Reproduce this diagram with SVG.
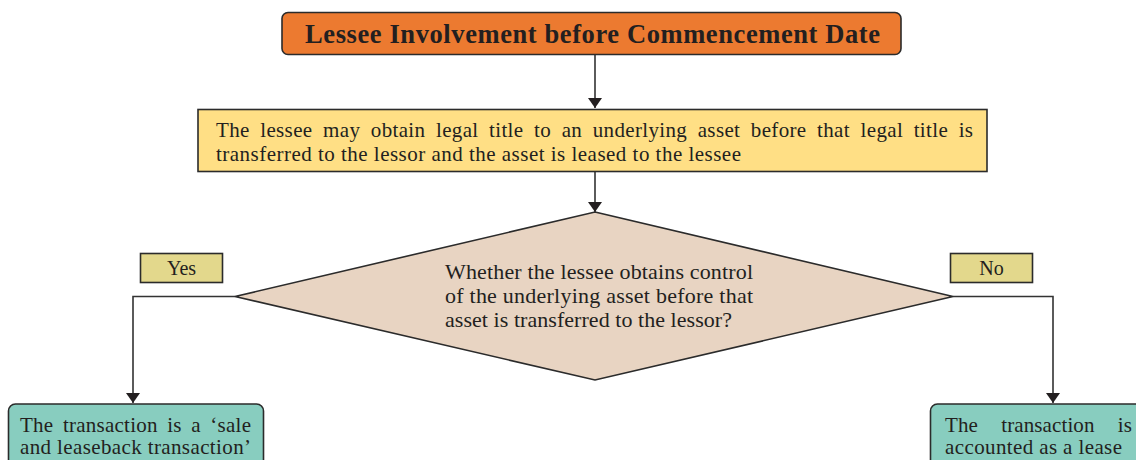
<svg xmlns="http://www.w3.org/2000/svg" width="1136" height="460" viewBox="0 0 1136 460">
<defs>
<style>
.box{stroke:#2b2b2b;stroke-width:1.6}
.t{font-family:"Liberation Serif","Times New Roman",serif;fill:#231f20}
.c{stroke:#333;stroke-width:1.6;fill:none}
</style>
<marker id="ah" viewBox="0 0 10 14" refX="10" refY="7" markerWidth="10" markerHeight="14" markerUnits="userSpaceOnUse" orient="auto">
<path d="M0,0 L10,7 L0,14 Z" fill="#231f20"/>
</marker>
</defs>
<rect width="1136" height="460" fill="#ffffff"/>
<g id="connectors">
<line class="c" x1="595" y1="55" x2="595" y2="108" marker-end="url(#ah)"/>
<line class="c" x1="595" y1="171" x2="595" y2="212" marker-end="url(#ah)"/>
<polyline class="c" points="235,296.5 133,296.5 133,403" marker-end="url(#ah)"/>
<polyline class="c" points="953,296.5 1053,296.5 1053,403" marker-end="url(#ah)"/>
</g>
<g id="title">
<rect class="box" x="282" y="12.5" width="619" height="42" rx="6" fill="#ec7a30"/>
<text class="t" x="305" y="42.5" font-size="26.5" font-weight="bold" textLength="575" lengthAdjust="spacing">Lessee Involvement before Commencement Date</text>
</g>
<g id="premise">
<rect class="box" x="198" y="109.5" width="789" height="62" fill="#ffdf85"/>
<text class="t" x="216" y="137" font-size="21" word-spacing="5" textLength="757" lengthAdjust="spacing">The lessee may obtain legal title to an underlying asset before that legal title is</text>
<text class="t" x="216" y="161" font-size="21" textLength="525" lengthAdjust="spacing">transferred to the lessor and the asset is leased to the lessee</text>
</g>
<g id="decision">
<polygon class="box" points="595,212 953,296.5 595,380 235,296.5" fill="#e8d4c2"/>
<text class="t" x="445" y="279" font-size="22" textLength="308" lengthAdjust="spacing">Whether the lessee obtains control</text>
<text class="t" x="445" y="303" font-size="22" textLength="308" lengthAdjust="spacing">of the underlying asset before that</text>
<text class="t" x="445" y="327" font-size="22" textLength="287" lengthAdjust="spacing">asset is transferred to the lessor?</text>
</g>
<g id="yes-label">
<rect class="box" x="140.5" y="253.5" width="82" height="29" fill="#e3d88c"/>
<text class="t" x="181.5" y="275" font-size="20" text-anchor="middle">Yes</text>
</g>
<g id="no-label">
<rect class="box" x="950.5" y="253.5" width="82" height="29" fill="#e3d88c"/>
<text class="t" x="991.5" y="275" font-size="20" text-anchor="middle">No</text>
</g>
<g id="yes-result">
<rect class="box" x="8.5" y="404" width="255" height="70" rx="7" fill="#88cdbf"/>
<text class="t" x="20" y="432" font-size="21" word-spacing="4" textLength="231" lengthAdjust="spacing">The transaction is a ‘sale</text>
<text class="t" x="20" y="454" font-size="21" textLength="231" lengthAdjust="spacing">and leaseback transaction’</text>
</g>
<g id="no-result">
<rect class="box" x="930.5" y="404" width="220" height="70" rx="7" fill="#88cdbf"/>
<text class="t" x="945" y="432" font-size="21" word-spacing="18" textLength="187" lengthAdjust="spacing">The transaction is</text>
<text class="t" x="945" y="454" font-size="21" textLength="177" lengthAdjust="spacing">accounted as a lease</text>
</g>
</svg>
